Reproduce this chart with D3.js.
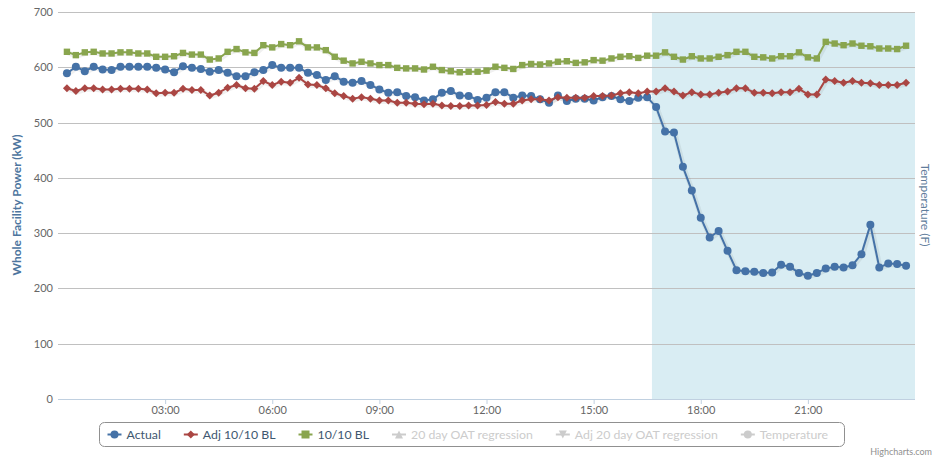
<!DOCTYPE html>
<html><head><meta charset="utf-8">
<script src="https://cdn.jsdelivr.net/npm/d3@7"></script>
<style>body{margin:0;background:#fff;} svg{display:block;font-family:Lato,"Open Sans",sans-serif;}</style>
</head><body><svg id="c" width="940" height="459"></svg>
<script>
// ---- data ----
const firstTime = "00:15";
const stepMinutes = 15;
const actual = [589,601,593,601,596,595,601,601,601,601,599,596,591,602,599,597,592,595,590,584,
584,591,595,604,599,599,599,590,586,577,584,574,572,575,568,560,554,555,548,546,
540,542,554,557,549,548,541,545,555,555,545,549,548,542,536,549,539,543,543,540,
546,548,542,539,545,546,528,484,482,420,377,328,292,304,268,233,231,230,228,229,
243,239,228,223,228,236,239,238,242,262,315,238,245,244,241];
const adj1010 = [562,557,562,562,560,560,561,561,561,560,553,554,554,561,559,559,549,554,563,568,
562,561,575,568,574,572,581,569,568,562,553,548,543,546,543,540,540,536,536,534,
533,534,531,530,530,531,531,532,537,534,534,540,542,542,540,546,545,545,545,548,
548,549,553,555,553,556,556,562,556,549,555,551,551,554,556,562,562,554,554,553,
555,555,561,551,551,578,575,572,575,572,571,568,568,568,572];
const bl1010 = [628,622,627,628,625,625,627,627,625,625,619,619,620,626,623,623,614,616,628,633,
627,626,640,636,642,640,647,636,636,631,619,612,607,610,607,604,604,599,598,598,
596,601,595,593,591,592,592,594,601,599,597,604,606,605,607,610,611,608,609,613,
612,616,619,620,617,621,621,627,619,614,620,616,616,619,622,628,628,619,618,616,
620,620,627,618,616,646,643,640,643,639,638,634,634,633,639];
const yTickValues = [0,100,200,300,400,500,600,700];
const xTickLabels = ["03:00","06:00","09:00","12:00","15:00","18:00","21:00"];
const axisStart = "00:00", axisEnd = "24:00";
const bandFrom = "16:38", bandTo = "24:00";
const legendNames = ["Actual","Adj 10/10 BL","10/10 BL","20 day OAT regression","Adj 20 day OAT regression","Temperature"];
const legendVisible = [true,true,true,false,false,false];
const legendSymbols = ["circle","diamond","square","triangle","triangle-down","circle"];
const seriesColors = ["#4572A7","#AA4643","#89A54E"];
const leftTitle = "Whole Facility Power (kW)";
const rightTitle = "Temperature (F)";

// ---- helpers ----
function toDate(s){const [h,m]=s.split(":").map(Number);return new Date(2000,0,1,h,m);}
const t0 = toDate(firstTime);
const times = actual.map((_,i)=>d3.timeMinute.offset(t0, stepMinutes*i));

const svg = d3.select("#c");
const L=58, R=915, T=12, B=399;
const x = d3.scaleTime().domain([toDate(axisStart), toDate(axisEnd)]).range([L,R]);
const y = d3.scaleLinear().domain([0,700]).range([B,T]);

// band
svg.append("rect").attr("x",x(toDate(bandFrom))).attr("y",T)
  .attr("width",x(toDate(bandTo))-x(toDate(bandFrom))).attr("height",B-T)
  .attr("fill","#d9edf3");

// grid
const yAxis = d3.axisLeft(y).tickValues(yTickValues).tickSize(-(R-L)).tickPadding(5);
const gy = svg.append("g").attr("transform",`translate(${L},0)`).call(yAxis);
gy.select(".domain").remove();
gy.selectAll(".tick line").attr("stroke","#c0c0c0").attr("shape-rendering","crispEdges");
gy.selectAll(".tick text").attr("fill","#666").attr("font-size","11px").attr("font-family","Lato,sans-serif");

// x axis
const xAxis = d3.axisBottom(x).tickValues(xTickLabels.map(toDate)).tickFormat(d3.timeFormat("%H:%M")).tickSize(5).tickPadding(2);
const gx = svg.append("g").attr("transform",`translate(0,${B})`).call(xAxis);
gx.select(".domain").attr("stroke","#C0D0E0").attr("d",`M${L},0.5H${R}`);
gx.selectAll(".tick line").attr("stroke","#C0D0E0");
gx.selectAll(".tick text").attr("fill","#666").attr("font-size","11px").attr("font-family","Lato,sans-serif");

// markers
function symPath(type, r){
  if(type==="diamond") return `M0,${-r}L${r},0L0,${r}L${-r},0Z`;
  if(type==="square") return `M${-r},${-r}H${r}V${r}H${-r}Z`;
  if(type==="triangle") return `M0,${-r}L${r},${r}H${-r}Z`;
  if(type==="triangle-down") return `M${-r},${-r}H${r}L0,${r}Z`;
  return `M${-r},0A${r},${r} 0 1,1 ${r},0A${r},${r} 0 1,1 ${-r},0Z`;
}
const markerR = {circle:4, diamond:4, square:3.2};

const seriesList = [actual, adj1010, bl1010];
const line = d3.line().x((d,i)=>x(times[i])).y(d=>y(d));
seriesList.forEach((data,k)=>{
  const g = svg.append("g");
  g.append("path").datum(data).attr("d",line).attr("fill","none")
    .attr("stroke","rgba(0,0,0,0.06)").attr("stroke-width",5).attr("transform","translate(1,1)");
  g.append("path").datum(data).attr("d",line).attr("fill","none")
    .attr("stroke",seriesColors[k]).attr("stroke-width",2).attr("stroke-linejoin","round");
  const s = legendSymbols[k];
  g.selectAll("path.m").data(data).join("path").attr("class","m")
    .attr("d",symPath(s, markerR[s]))
    .attr("transform",(d,i)=>`translate(${x(times[i])},${y(d)})`)
    .attr("fill",seriesColors[k]);
});

// titles
svg.append("text").attr("transform",`translate(21,205) rotate(-90)`).attr("text-anchor","middle")
  .attr("fill","#4d759e").attr("font-weight","bold").attr("font-size","12px").text(leftTitle);
svg.append("text").attr("transform",`translate(921,205) rotate(90)`).attr("text-anchor","middle")
  .attr("fill","#5f7d9c").attr("font-size","12px").text(rightTitle);

// legend
const lg = svg.append("g");
lg.append("rect").attr("x",99.5).attr("y",422.5).attr("width",745).attr("height",24).attr("rx",5)
  .attr("fill","none").attr("stroke","#909090");
let lx = 107.5;
legendNames.forEach((name,k)=>{
  const col = legendVisible[k] ? seriesColors[k] : "#ccc";
  const g = lg.append("g").attr("transform",`translate(${lx},0)`);
  g.append("path").attr("d","M0,434.5H14").attr("stroke",col).attr("stroke-width",2);
  g.append("path").attr("d",symPath(legendSymbols[k],4)).attr("transform","translate(7,434.5)").attr("fill",col);
  const t = g.append("text").attr("x",19).attr("y",439).attr("font-size","12.3px")
    .attr("fill",legendVisible[k]?"#3E576F":"#ccc").text(name);
  const w = t.node().getComputedTextLength();
  lx += 19 + w + 23;
});

// credits
svg.append("text").attr("x",932).attr("y",455).attr("text-anchor","end").attr("font-size","9px")
  .attr("fill","#909090").text("Highcharts.com");
</script></body></html>
